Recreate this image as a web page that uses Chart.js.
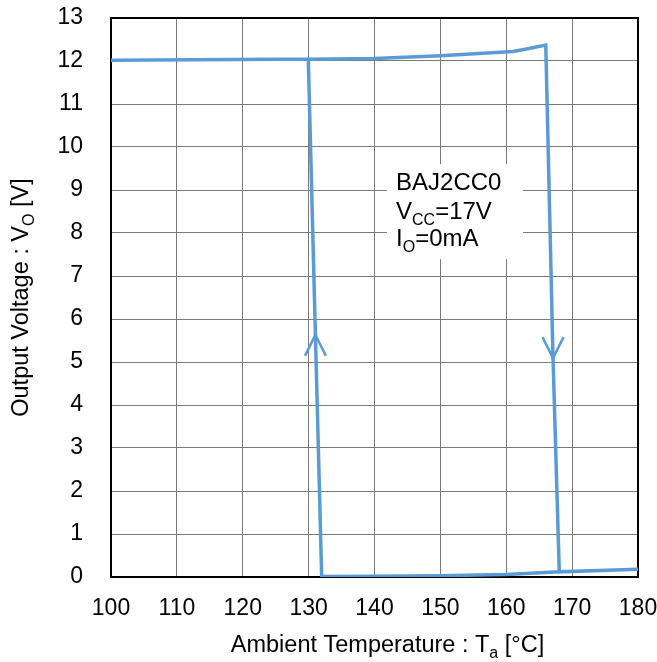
<!DOCTYPE html>
<html>
<head>
<meta charset="utf-8">
<script src="https://cdn.jsdelivr.net/npm/chart.js@4.4.1/dist/chart.umd.min.js"></script>
<style>
  body { margin: 0; background: #fff; }
  canvas { display: block; }
</style>
</head>
<body>
<canvas id="tempChart" width="657" height="662"></canvas>
<script>
// rising temperature path (top branch, drop at ~167 C)
const heatTemp = [100, 125.7, 129.95, 140, 150, 161, 162.5, 166.0, 167.1, 168.05, 180];
const heatVolt = [12.02, 12.04, 12.04, 12.06, 12.12, 12.22, 12.26, 12.37, 5.09, 0.12, 0.18];
// falling temperature path (recovery at ~131 C)
const coolTemp = [129.95, 131.03, 131.98, 140, 150, 160, 168.05];
const coolVolt = [12.04, 5.63, 0.01, 0.02, 0.03, 0.06, 0.12];
// direction arrows on the two vertical segments
const arrowTemp = [131.03, 167.1];
const arrowVolt = [5.63, 5.09];
const arrowDir = ["up", "down"];

const lineColor = "#5B9BD5";
const fontFamily = "'Liberation Sans', Arial, sans-serif";

function toPoints(xs, ys) {
    return xs.map((x, i) => ({ x: x, y: ys[i] }));
}

// frame, note box and axis titles
const decorPlugin = {
    id: "decor",
    beforeDatasetsDraw(chart) {
        const ctx = chart.ctx;
        const a = chart.chartArea;
        const xs = chart.scales.x, ys = chart.scales.y;
        ctx.save();
        ctx.strokeStyle = "#000";
        ctx.lineWidth = 2;
        ctx.strokeRect(a.left, a.top, a.right - a.left, a.bottom - a.top);

        // note box
        const bx = xs.getPixelForValue(141.9);
        const by = ys.getPixelForValue(9.6);
        ctx.fillStyle = "#fff";
        ctx.fillRect(bx, by, 136, 95);
        ctx.fillStyle = "#000";
        ctx.textBaseline = "alphabetic";
        ctx.textAlign = "left";
        const tx = bx + 9;
        ctx.font = "24px " + fontFamily;
        ctx.fillText("BAJ2CC0", tx, by + 26);
        let w = ctx.measureText("V").width;
        ctx.fillText("V", tx, by + 55);
        ctx.font = "16px " + fontFamily;
        ctx.fillText("CC", tx + w, by + 61);
        let w2 = ctx.measureText("CC").width;
        ctx.font = "24px " + fontFamily;
        ctx.fillText("=17V", tx + w + w2, by + 55);
        w = ctx.measureText("I").width;
        ctx.fillText("I", tx, by + 82);
        ctx.font = "16px " + fontFamily;
        ctx.fillText("O", tx + w, by + 88);
        w2 = ctx.measureText("O").width;
        ctx.font = "24px " + fontFamily;
        ctx.fillText("=0mA", tx + w + w2, by + 82);
        ctx.restore();
    },
    afterDatasetsDraw(chart) {
        const ctx = chart.ctx;
        const xs = chart.scales.x, ys = chart.scales.y;
        ctx.save();
        ctx.strokeStyle = lineColor;
        ctx.lineWidth = 2.5;
        arrowTemp.forEach((t, i) => {
            const px = xs.getPixelForValue(t);
            const py = ys.getPixelForValue(arrowVolt[i]);
            const d = arrowDir[i] === "up" ? 1 : -1;
            ctx.beginPath();
            ctx.moveTo(px - 10.5, py + d * 21);
            ctx.lineTo(px, py);
            ctx.lineTo(px + 10.5, py + d * 21);
            ctx.stroke();
        });
        ctx.restore();
    },
    afterDraw(chart) {
        const ctx = chart.ctx;
        const a = chart.chartArea;
        ctx.save();
        ctx.fillStyle = "#000";
        ctx.textBaseline = "alphabetic";

        // x title
        const main1 = "Ambient Temperature : T", sub1 = "a", tail1 = " [\u00B0C]";
        ctx.font = "23.5px " + fontFamily;
        const m1 = ctx.measureText(main1).width;
        const t1 = ctx.measureText(tail1).width;
        ctx.font = "16px " + fontFamily;
        const s1 = ctx.measureText(sub1).width;
        let x0 = (a.left + a.right) / 2 + 13 - (m1 + s1 + t1) / 2;
        const yb = 652;
        ctx.font = "23.5px " + fontFamily;
        ctx.fillText(main1, x0, yb);
        ctx.font = "16px " + fontFamily;
        ctx.fillText(sub1, x0 + m1, yb + 6);
        ctx.font = "23.5px " + fontFamily;
        ctx.fillText(tail1, x0 + m1 + s1, yb);

        // y title (rotated)
        const main2 = "Output Voltage : V", sub2 = "O", tail2 = " [V]";
        ctx.font = "23.5px " + fontFamily;
        const m2 = ctx.measureText(main2).width;
        const t2 = ctx.measureText(tail2).width;
        ctx.font = "16px " + fontFamily;
        const s2 = ctx.measureText(sub2).width;
        ctx.translate(28, (a.top + a.bottom) / 2);
        ctx.rotate(-Math.PI / 2);
        x0 = -(m2 + s2 + t2) / 2;
        ctx.font = "23.5px " + fontFamily;
        ctx.fillText(main2, x0, 0);
        ctx.font = "16px " + fontFamily;
        ctx.fillText(sub2, x0 + m2, 6);
        ctx.font = "23.5px " + fontFamily;
        ctx.fillText(tail2, x0 + m2 + s2, 0);
        ctx.restore();
    }
};

function createTempChart() {
    const ctx = document.getElementById("tempChart").getContext("2d");
    new Chart(ctx, {
        type: "scatter",
        data: {
            datasets: [{
                data: toPoints(heatTemp, heatVolt),
                showLine: true,
                borderColor: lineColor,
                borderWidth: 3.5,
                pointRadius: 0,
                tension: 0
            }, {
                data: toPoints(coolTemp, coolVolt),
                showLine: true,
                borderColor: lineColor,
                borderWidth: 3.5,
                pointRadius: 0,
                tension: 0
            }]
        },
        options: {
            responsive: false,
            animation: false,
            layout: { padding: { top: 18, right: 19, left: 0, bottom: 0 } },
            plugins: { legend: { display: false }, tooltip: { enabled: false } },
            scales: {
                x: {
                    type: "linear",
                    min: 100,
                    max: 180,
                    afterFit: (s) => { s.height = 85; s.paddingLeft = 0; s.paddingRight = 0; },
                    grid: { color: "#7a7a7a", lineWidth: 1, drawTicks: false },
                    border: { color: "#000", width: 2 },
                    ticks: {
                        stepSize: 10,
                        padding: 18,
                        color: "#000",
                        maxRotation: 0,
                        font: { family: fontFamily, size: 23 }
                    }
                },
                y: {
                    min: 0,
                    max: 13,
                    afterFit: (s) => { s.width = 111; s.paddingTop = 0; s.paddingBottom = 0; },
                    grid: { color: "#7a7a7a", lineWidth: 1, drawTicks: false },
                    border: { color: "#000", width: 2 },
                    ticks: {
                        stepSize: 1,
                        padding: 28,
                        color: "#000",
                        font: { family: fontFamily, size: 23 }
                    }
                }
            }
        },
        plugins: [decorPlugin]
    });
}

document.addEventListener("DOMContentLoaded", createTempChart);
</script>
</body>
</html>
